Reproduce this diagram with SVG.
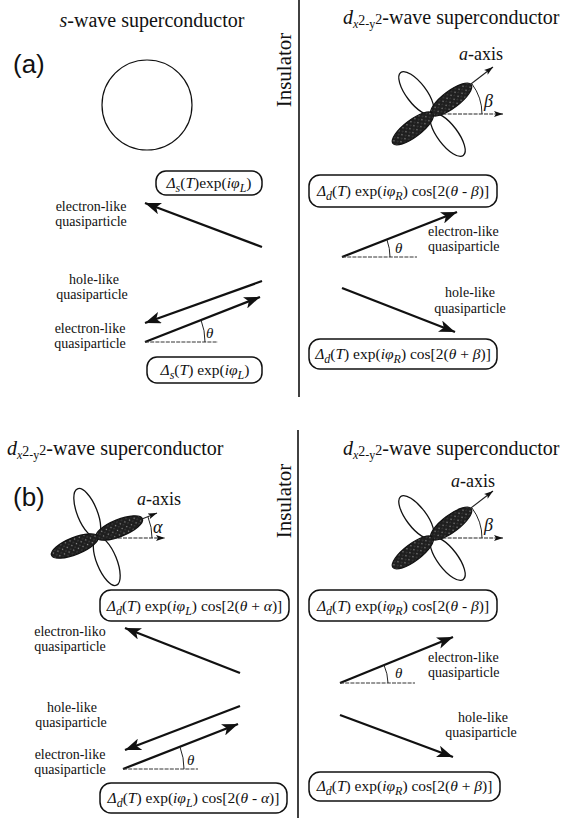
<svg xmlns="http://www.w3.org/2000/svg" width="571" height="825" viewBox="0 0 571 825">
<style>
text{font-family:"Liberation Serif","Times New Roman",serif;fill:#111}
.hdr{font-size:20px}
.lbl{font-size:14px}
.box{font-size:15.5px}
.it{font-style:italic}
.sub{font-size:12px}
.hs{font-size:14px}
.tag{font-family:"Liberation Sans",Arial,sans-serif;font-size:26px}
.ins{font-size:21px}
.gr{font-size:18px;font-style:italic}
.axl{font-size:18px}
.th{font-size:15px;font-style:italic}
.arr{stroke:#111;stroke-width:2.3;fill:none;marker-end:url(#ah)}
.ax{stroke:#222;stroke-width:1.1;fill:none;marker-end:url(#sa)}
.ref{stroke:#333;stroke-width:1;fill:none;stroke-dasharray:4 1.2}
.arc{stroke:#222;stroke-width:1;fill:none}
.rb{fill:#fff;stroke:#111;stroke-width:1.5}
.open{fill:#fff;stroke:#111;stroke-width:1.3}
.shade{fill:url(#stip);stroke:#111;stroke-width:1.2}
.div{stroke:#111;stroke-width:1.6}
</style>
<defs>
<marker id="ah" markerUnits="userSpaceOnUse" markerWidth="17" markerHeight="12" refX="16" refY="6" orient="auto">
<path d="M0,0 L16,6 L0,12 L4,6 Z" fill="#111"/>
</marker>
<marker id="sa" markerUnits="userSpaceOnUse" markerWidth="10" markerHeight="7" refX="9" refY="3.5" orient="auto">
<path d="M0,0.5 L9,3.5 L0,6.5 L2,3.5 Z" fill="#111"/>
</marker>
<pattern id="stip" width="5" height="5" patternUnits="userSpaceOnUse">
<rect width="5" height="5" fill="#1e1e1e"/>
<circle cx="1.5" cy="1.5" r="0.7" fill="#9a9a9a"/>
<circle cx="4" cy="3.8" r="0.5" fill="#777"/>
</pattern>
<g id="lobesB">
<ellipse class="open" cx="26" cy="0" rx="26" ry="10" transform="rotate(-127)"/>
<ellipse class="open" cx="26" cy="0" rx="26" ry="10" transform="rotate(53)"/>
<ellipse class="shade" cx="24" cy="0" rx="25" ry="8.5" transform="rotate(-37)"/>
<ellipse class="shade" cx="24" cy="0" rx="25" ry="8.5" transform="rotate(143)"/>
</g>
</defs>

<rect width="571" height="825" fill="#fff"/>

<g id="dividers">
<line class="div" x1="299" y1="0" x2="299" y2="397"/>
<line class="div" x1="298" y1="430" x2="298" y2="818"/>
</g>

<!-- ===== (a) ===== -->
<g id="a-tag"><text class="tag" x="13" y="73">(a)</text></g>
<g id="a-left-title"><text class="hdr" x="152" y="27" text-anchor="middle"><tspan class="it">s</tspan>-wave superconductor</text></g>
<g id="a-insulator"><text class="ins" transform="translate(291,70) rotate(-90)" text-anchor="middle">Insulator</text></g>
<g id="a-right-title"><text class="hdr" x="343" y="24"><tspan class="it">d</tspan><tspan class="sub it" dy="4">x</tspan><tspan class="hs" dy="-3">2</tspan><tspan class="sub" dy="3">-y</tspan><tspan class="hs" dy="-4">2</tspan><tspan dy="0">-wave superconductor</tspan></text></g>

<g id="a-swave"><circle cx="147" cy="105" r="45" fill="none" stroke="#111" stroke-width="1.2"/></g>

<g id="a-dwave">
<use href="#lobesB" transform="translate(432,114)"/>
<line class="ax" x1="432" y1="114" x2="493" y2="67"/>
<line class="ax" x1="432" y1="114" x2="503" y2="114" stroke-dasharray="4 1.2"/>
<path class="arc" d="M482,114 A50,50 0 0 0 472,84"/>
<text class="gr" x="484" y="107">β</text>
<text class="axl" x="459" y="60"><tspan class="it">a</tspan>-axis</text>
</g>

<g id="a-box1"><rect class="rb" x="156" y="171" width="106" height="24" rx="10"/>
<text class="box" x="209" y="188" text-anchor="middle"><tspan class="it">Δ</tspan><tspan class="sub it" dy="4">s</tspan><tspan dy="-4">(</tspan><tspan class="it">T</tspan>)exp(<tspan class="it">iφ</tspan><tspan class="sub it" dy="4">L</tspan><tspan dy="-4">)</tspan></text></g>
<g id="a-box2"><rect class="rb" x="147" y="357" width="115" height="26" rx="10"/>
<text class="box" x="205" y="375" text-anchor="middle"><tspan class="it">Δ</tspan><tspan class="sub it" dy="4">s</tspan><tspan dy="-4">(</tspan><tspan class="it">T</tspan>) exp(<tspan class="it">iφ</tspan><tspan class="sub it" dy="4">L</tspan><tspan dy="-4">)</tspan></text></g>
<g id="a-box3"><rect class="rb" x="309" y="175" width="188" height="32" rx="11"/>
<text class="box" x="403" y="196" text-anchor="middle"><tspan class="it">Δ</tspan><tspan class="sub it" dy="4">d</tspan><tspan dy="-4">(</tspan><tspan class="it">T</tspan>) exp(<tspan class="it">iφ</tspan><tspan class="sub it" dy="4">R</tspan><tspan dy="-4">) cos[2(</tspan><tspan class="it">θ</tspan> - <tspan class="it">β</tspan>)]</text></g>
<g id="a-box4"><rect class="rb" x="309" y="339" width="188" height="30" rx="11"/>
<text class="box" x="403" y="359" text-anchor="middle"><tspan class="it">Δ</tspan><tspan class="sub it" dy="4">d</tspan><tspan dy="-4">(</tspan><tspan class="it">T</tspan>) exp(<tspan class="it">iφ</tspan><tspan class="sub it" dy="4">R</tspan><tspan dy="-4">) cos[2(</tspan><tspan class="it">θ</tspan> + <tspan class="it">β</tspan>)]</text></g>

<g id="a-labels">
<text class="lbl" x="91" y="211" text-anchor="middle">electron-like</text>
<text class="lbl" x="91" y="226" text-anchor="middle">quasiparticle</text>
<text class="lbl" x="94" y="284" text-anchor="middle">hole-like</text>
<text class="lbl" x="92" y="299" text-anchor="middle">quasiparticle</text>
<text class="lbl" x="90" y="333" text-anchor="middle">electron-like</text>
<text class="lbl" x="90" y="348" text-anchor="middle">quasiparticle</text>
<text class="lbl" x="428" y="236">electron-like</text>
<text class="lbl" x="428" y="251">quasiparticle</text>
<text class="lbl" x="470" y="297" text-anchor="middle">hole-like</text>
<text class="lbl" x="470" y="313" text-anchor="middle">quasiparticle</text>
<text class="th" x="206" y="338">θ</text>
<text class="th" x="395" y="253">θ</text>
</g>

<!-- ===== (b) ===== -->
<g id="b-tag"><text class="tag" x="13" y="506">(b)</text></g>
<g id="b-left-title"><text class="hdr" x="7" y="455"><tspan class="it">d</tspan><tspan class="sub it" dy="4">x</tspan><tspan class="hs" dy="-3">2</tspan><tspan class="sub" dy="3">-y</tspan><tspan class="hs" dy="-4">2</tspan><tspan dy="0">-wave superconductor</tspan></text></g>
<g id="b-insulator"><text class="ins" transform="translate(291,501) rotate(-90)" text-anchor="middle">Insulator</text></g>
<g id="b-right-title"><text class="hdr" x="343" y="455"><tspan class="it">d</tspan><tspan class="sub it" dy="4">x</tspan><tspan class="hs" dy="-3">2</tspan><tspan class="sub" dy="3">-y</tspan><tspan class="hs" dy="-4">2</tspan><tspan dy="0">-wave superconductor</tspan></text></g>

<g id="b-dwave-left">
<g transform="translate(97,537)">
<ellipse class="open" cx="26" cy="0" rx="26" ry="10" transform="rotate(-112)"/>
<ellipse class="open" cx="26" cy="0" rx="26" ry="10" transform="rotate(68)"/>
<ellipse class="shade" cx="24" cy="0" rx="25" ry="8.5" transform="rotate(-22)"/>
<ellipse class="shade" cx="24" cy="0" rx="25" ry="8.5" transform="rotate(158)"/>
</g>
<line class="ax" x1="97" y1="537" x2="157" y2="513"/>
<line class="ax" x1="97" y1="538" x2="165" y2="538" stroke-dasharray="4 1.2"/>
<path class="arc" d="M152,538 A55,55 0 0 0 148,517"/>
<text class="gr" x="153" y="533">α</text>
<text class="axl" x="137" y="505"><tspan class="it">a</tspan>-axis</text>
</g>

<g id="b-dwave-right">
<use href="#lobesB" transform="translate(432,538)"/>
<line class="ax" x1="432" y1="538" x2="493" y2="491"/>
<line class="ax" x1="432" y1="538" x2="503" y2="538" stroke-dasharray="4 1.2"/>
<path class="arc" d="M482,538 A50,50 0 0 0 472,508"/>
<text class="gr" x="484" y="531">β</text>
<text class="axl" x="451" y="487"><tspan class="it">a</tspan>-axis</text>
</g>

<g id="b-box1"><rect class="rb" x="100" y="590" width="189" height="31" rx="11"/>
<text class="box" x="194.5" y="611" text-anchor="middle"><tspan class="it">Δ</tspan><tspan class="sub it" dy="4">d</tspan><tspan dy="-4">(</tspan><tspan class="it">T</tspan>) exp(<tspan class="it">iφ</tspan><tspan class="sub it" dy="4">L</tspan><tspan dy="-4">) cos[2(</tspan><tspan class="it">θ</tspan> + <tspan class="it">α</tspan>)]</text></g>
<g id="b-box2"><rect class="rb" x="100" y="783" width="187" height="30" rx="11"/>
<text class="box" x="193.5" y="803" text-anchor="middle"><tspan class="it">Δ</tspan><tspan class="sub it" dy="4">d</tspan><tspan dy="-4">(</tspan><tspan class="it">T</tspan>) exp(<tspan class="it">iφ</tspan><tspan class="sub it" dy="4">L</tspan><tspan dy="-4">) cos[2(</tspan><tspan class="it">θ</tspan> - <tspan class="it">α</tspan>)]</text></g>
<g id="b-box3"><rect class="rb" x="309" y="590" width="188" height="31" rx="11"/>
<text class="box" x="403" y="611" text-anchor="middle"><tspan class="it">Δ</tspan><tspan class="sub it" dy="4">d</tspan><tspan dy="-4">(</tspan><tspan class="it">T</tspan>) exp(<tspan class="it">iφ</tspan><tspan class="sub it" dy="4">R</tspan><tspan dy="-4">) cos[2(</tspan><tspan class="it">θ</tspan> - <tspan class="it">β</tspan>)]</text></g>
<g id="b-box4"><rect class="rb" x="309" y="772" width="191" height="29" rx="11"/>
<text class="box" x="404.5" y="791" text-anchor="middle"><tspan class="it">Δ</tspan><tspan class="sub it" dy="4">d</tspan><tspan dy="-4">(</tspan><tspan class="it">T</tspan>) exp(<tspan class="it">iφ</tspan><tspan class="sub it" dy="4">R</tspan><tspan dy="-4">) cos[2(</tspan><tspan class="it">θ</tspan> + <tspan class="it">β</tspan>)]</text></g>

<g id="b-labels">
<text class="lbl" x="70" y="636" text-anchor="middle">electron-liko</text>
<text class="lbl" x="70" y="651" text-anchor="middle">quasiparticle</text>
<text class="lbl" x="72" y="712" text-anchor="middle">hole-like</text>
<text class="lbl" x="71" y="727" text-anchor="middle">quasiparticle</text>
<text class="lbl" x="70" y="759" text-anchor="middle">electron-like</text>
<text class="lbl" x="70" y="774" text-anchor="middle">quasiparticle</text>
<text class="lbl" x="428" y="662">electron-like</text>
<text class="lbl" x="428" y="677">quasiparticle</text>
<text class="lbl" x="483" y="722" text-anchor="middle">hole-like</text>
<text class="lbl" x="481" y="737" text-anchor="middle">quasiparticle</text>
<text class="th" x="187" y="765">θ</text>
<text class="th" x="395" y="678">θ</text>
</g>

<g id="connectors">
<line class="arr" x1="262" y1="247" x2="145" y2="203"/>
<line class="arr" x1="262" y1="281" x2="145" y2="323"/>
<line class="arr" x1="145" y1="342" x2="260" y2="297"/>
<line class="ref" x1="145" y1="342" x2="218" y2="342"/>
<path class="arc" d="M205,342 A60,60 0 0 0 201,320"/>
<line class="arr" x1="342" y1="257" x2="457" y2="212"/>
<line class="ref" x1="342" y1="257" x2="417" y2="257"/>
<path class="arc" d="M390,257 A48,48 0 0 0 387,240"/>
<line class="arr" x1="342" y1="288" x2="455" y2="332"/>

<line class="arr" x1="240" y1="673" x2="125" y2="628"/>
<line class="arr" x1="240" y1="706" x2="125" y2="750"/>
<line class="arr" x1="123" y1="769" x2="238" y2="724"/>
<line class="ref" x1="123" y1="769" x2="198" y2="769"/>
<path class="arc" d="M184,769 A61,61 0 0 0 180,747"/>
<line class="arr" x1="340" y1="683" x2="453" y2="637"/>
<line class="ref" x1="340" y1="683" x2="415" y2="683"/>
<path class="arc" d="M388,683 A48,48 0 0 0 384,665"/>
<line class="arr" x1="340" y1="715" x2="453" y2="757"/>
</g>
</svg>
